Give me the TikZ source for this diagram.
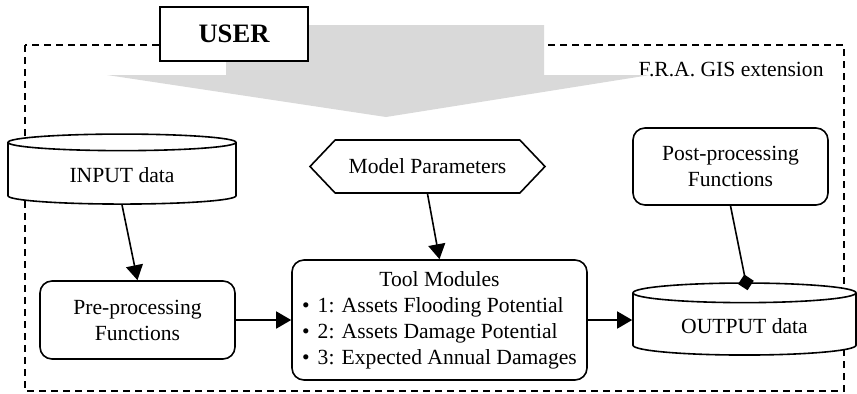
\documentclass[tikz,border=0pt]{standalone}
\usepackage{fontspec}
\setmainfont{Liberation Serif}
\usetikzlibrary{arrows.meta,positioning,shapes.geometric,shapes.symbols}
\definecolor{userGray}{HTML}{D9D9D9}

\begin{document}
\begin{tikzpicture}[x=0.5pt, y=-0.5pt,
     every node/.style={font=\fontsize{10.8}{13}\selectfont},
     box/.style={draw, line width=0.8pt, rounded corners=6pt, fill=white, align=center},
     db/.style={draw, line width=0.8pt, cylinder, shape border rotate=90, aspect=0.14,
                fill=white, align=center},
     frame/.style={line width=0.8pt, dash pattern=on 3.5pt off 2.5pt},
     arr/.style={-{Triangle[length=7.5pt, width=8.5pt]}, line width=0.8pt},
     dia/.style={-{Diamond[length=8pt, width=8pt]}, line width=0.8pt}]
  \useasboundingbox (0,0) rectangle (857,393);
  % extension frame, user arrow on top of it
  \draw[frame] (25,45) rectangle (844,391);
  \node[anchor=east, inner sep=0pt] (ext) at (824,69) {F.R.A. GIS extension};
  \fill[userGray] (226,25) -- (544,25) -- (544,75) -- (650,75) -- (386,117)
       -- (107,75) -- (226,75) -- cycle;
  \node[draw, line width=0.8pt, fill=white, minimum width=74pt, minimum height=27pt,
        font=\fontsize{13.3}{15}\selectfont\bfseries] (user) at (234,34) {USER};
  % top row
  \node[db, minimum width=114pt, minimum height=35pt] (inp) at (122,175) {INPUT data};
  \node[draw, line width=0.8pt, signal, signal to=west and east, signal pointer angle=93,
        minimum width=117.5pt, minimum height=26.5pt] (par) at (427.5,166.5) {Model Parameters};
  \node[box, minimum width=97.5pt, minimum height=38.5pt] (post) at (730.5,166.5)
       {Post-processing\\Functions};
  % bottom row
  \node[box, minimum width=97.5pt, minimum height=39pt] (pre) at (137.5,320)
       {Pre-processing\\Functions};
  \node[box, minimum width=147.5pt, minimum height=60pt] (tool) at (439.5,320)
       {\begin{tabular}{@{}l@{}}\multicolumn{1}{@{}c@{}}{Tool Modules}\\
        \textbullet\hspace{4pt}1: Assets Flooding Potential\\
        \textbullet\hspace{4pt}2: Assets Damage Potential\\
        \textbullet\hspace{4pt}3: Expected Annual Damages\end{tabular}};
  \node[db, minimum width=111.5pt, minimum height=36pt] (out) at (744.5,326) {OUTPUT data};
  % links
  \draw[arr] (inp.south) -- (pre.north);
  \draw[arr] (par.south) -- (tool.north);
  \draw[arr] (pre.east) -- (tool.west);
  \draw[arr] (tool.east) -- (tool.east -| out.west);
  \draw[dia] (post.south) -- ([shift={(3,8)}]out.north);
\end{tikzpicture}
\end{document}
